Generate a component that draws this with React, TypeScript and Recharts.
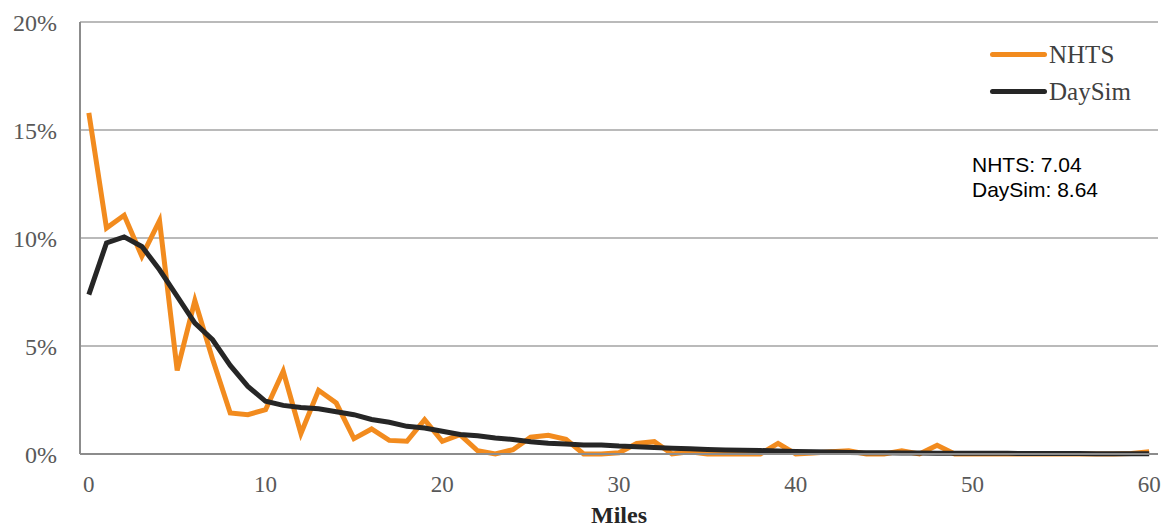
import { LineChart, Line, XAxis, YAxis, CartesianGrid } from "recharts";

const MILES = [
    0, 1, 2, 3, 4, 5, 6, 7, 8, 9, 10, 11, 12, 13, 14, 15, 16, 17, 18, 19, 20,
    21, 22, 23, 24, 25, 26, 27, 28, 29, 30, 31, 32, 33, 34, 35, 36, 37, 38, 39, 40,
    41, 42, 43, 44, 45, 46, 47, 48, 49, 50, 51, 52, 53, 54, 55, 56, 57, 58, 59, 60,
];

// share of trips (%) per mile bin
const NHTS = [
    15.79, 10.46, 11.05, 9.15, 10.8, 3.87, 7.1, 4.4, 1.9, 1.82, 2.05,
    3.83, 0.95, 2.95, 2.36, 0.71, 1.16, 0.63, 0.59, 1.59, 0.59,
    0.9, 0.15, 0.0, 0.2, 0.78, 0.87, 0.68, 0.0, 0.0, 0.06,
    0.49, 0.57, 0.0, 0.1, 0.0, 0.0, 0.0, 0.0, 0.49, 0.0,
    0.05, 0.1, 0.15, 0.0, 0.0, 0.15, 0.0, 0.4, 0.0, 0.0,
    0.0, 0.0, 0.0, 0.0, 0.0, 0.0, 0.0, 0.0, 0.02, 0.1,
];

const DAYSIM = [
    7.38, 9.77, 10.05, 9.61, 8.53, 7.3, 6.06, 5.29, 4.1, 3.13, 2.44,
    2.25, 2.15, 2.09, 1.96, 1.82, 1.6, 1.47, 1.28, 1.2, 1.05,
    0.9, 0.84, 0.74, 0.67, 0.57, 0.5, 0.46, 0.42, 0.42, 0.37,
    0.34, 0.3, 0.27, 0.24, 0.21, 0.19, 0.17, 0.16, 0.14, 0.12,
    0.1, 0.09, 0.07, 0.06, 0.06, 0.05, 0.05, 0.04, 0.04, 0.03,
    0.03, 0.03, 0.02, 0.02, 0.02, 0.02, 0.01, 0.01, 0.01, 0.01,
];

const X_TICKS = [0, 10, 20, 30, 40, 50, 60];
const Y_TICKS = [0, 5, 10, 15, 20];

const SERIES = [
    { key: "nhts", label: "NHTS", color: "#F28B1E" },
    { key: "daysim", label: "DaySim", color: "#262626" },
];

const AVERAGES = ["NHTS: 7.04", "DaySim: 8.64"];

const SERIF = "'Liberation Serif', 'DejaVu Serif', serif";
const SANS = "'Liberation Sans', Arial, sans-serif";

const data = MILES.map((m, i) => ({ mile: m, nhts: NHTS[i], daysim: DAYSIM[i] }));

export default function App() {
    return (
        <div style={{ position: "absolute", left: 0, top: 0, width: 1164, height: 529, background: "#fff" }}>
            <LineChart
                width={1164}
                height={529}
                data={data}
                margin={{ top: 22, right: 6, left: 0, bottom: 0 }}
            >
                <CartesianGrid vertical={false} stroke="#a3a3a3" strokeWidth={1.5} />
                <XAxis
                    dataKey="mile"
                    type="number"
                    domain={[-0.5, 60.5]}
                    ticks={X_TICKS}
                    height={75}
                    stroke="#8c8c8c"
                    strokeWidth={2}
                    tickLine={false}
                    tickSize={0}
                    tickMargin={22}
                    tick={{ fontFamily: SERIF, fontSize: 23, fill: "#595959" }}
                    label={{
                        value: "Miles",
                        position: "insideBottom",
                        offset: 6,
                        style: { fontFamily: SERIF, fontSize: 24, fontWeight: 700, fill: "#262626" },
                    }}
                />
                <YAxis
                    domain={[0, 20]}
                    ticks={Y_TICKS}
                    width={80}
                    stroke="#8c8c8c"
                    strokeWidth={2}
                    tickLine={false}
                    tickSize={0}
                    tickMargin={23}
                    tickFormatter={v => `${v}%`}
                    tick={{ fontFamily: SERIF, fontSize: 24, fill: "#595959" }}
                />
                {SERIES.map(s => (
                    <Line
                        key={s.key}
                        dataKey={s.key}
                        name={s.label}
                        type="linear"
                        stroke={s.color}
                        strokeWidth={5}
                        dot={false}
                        activeDot={false}
                        isAnimationActive={false}
                    />
                ))}
            </LineChart>

            {/* legend, top right inside the plot */}
            <div
                style={{
                    position: "absolute",
                    left: 990,
                    top: 36,
                    fontFamily: SERIF,
                    fontSize: 25,
                    color: "#404040",
                }}
            >
                {SERIES.map(s => (
                    <div key={s.key} style={{ display: "flex", alignItems: "center", height: 37 }}>
                        <div style={{ width: 57, height: 5, borderRadius: 3, background: s.color, marginRight: 2 }} />
                        <span>{s.label}</span>
                    </div>
                ))}
            </div>

            <div
                style={{
                    position: "absolute",
                    left: 972,
                    top: 152,
                    fontFamily: SANS,
                    fontSize: 21,
                    lineHeight: "25px",
                    color: "#000",
                }}
            >
                {AVERAGES.map(t => (
                    <div key={t}>{t}</div>
                ))}
            </div>
        </div>
    );
}
